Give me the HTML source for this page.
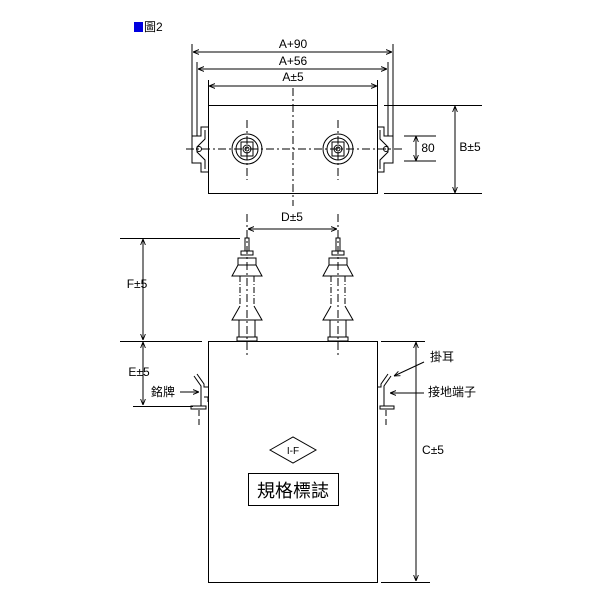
<!DOCTYPE html>
<html><head><meta charset="utf-8"><style>
html,body{margin:0;padding:0;background:#fff;width:600px;height:600px;overflow:hidden}
text{font-family:"Liberation Sans","Noto Sans CJK TC",sans-serif;fill:#000}
</style></head><body>
<svg width="600" height="600" viewBox="0 0 600 600" xmlns="http://www.w3.org/2000/svg">
<defs>
<marker id="a" viewBox="0 0 10 10" refX="10" refY="5" markerWidth="6" markerHeight="6" orient="auto-start-reverse"><path d="M0,1 L10,5 L0,9" fill="none" stroke="#000" stroke-width="1.5"/></marker>
</defs>
<rect x="134" y="22" width="9" height="10" fill="#0000e0"/>
<text x="144" y="31" font-size="12">圖2</text>
<g stroke="#000" stroke-width="1" fill="none">
<rect x="208.5" y="105.5" width="169" height="88"/>
<line x1="293" y1="88" x2="293" y2="206" stroke-dasharray="8,3,2,3"/>
<line x1="186" y1="149" x2="402" y2="149" stroke-dasharray="8,3,2,3"/>
<line x1="247" y1="120" x2="247" y2="180" stroke-dasharray="8,3,2,3"/>
<line x1="338" y1="120" x2="338" y2="180" stroke-dasharray="8,3,2,3"/>
<circle cx="247" cy="149" r="15"/><circle cx="247" cy="149" r="11"/><rect x="241" y="142" width="12" height="14"/><circle cx="247" cy="149" r="4"/><circle cx="247" cy="149" r="2"/>
<circle cx="338" cy="149" r="15"/><circle cx="338" cy="149" r="11"/><rect x="332" y="142" width="12" height="14"/><circle cx="338" cy="149" r="4"/><circle cx="338" cy="149" r="2"/>
<path d="M208,127 H201 V136 H192 V163 H201 V172 H208"/><path d="M205,130 V139 L197,147 L197,152 L205,160 V169"/><circle cx="199" cy="149" r="2.5"/>
<path d="M377,127 H384 V136 H393 V163 H384 V172 H377"/><path d="M380,130 V139 L388,147 L388,152 L380,160 V169"/><circle cx="386" cy="149" r="2.5"/>
<line x1="192" y1="44" x2="192" y2="136"/><line x1="197" y1="62" x2="197" y2="136"/>
<line x1="393" y1="44" x2="393" y2="136"/><line x1="388" y1="62" x2="388" y2="136"/>
<line x1="208.5" y1="80" x2="208.5" y2="105"/><line x1="377.5" y1="80" x2="377.5" y2="105"/>
<line x1="193" y1="52" x2="392" y2="52" marker-start="url(#a)" marker-end="url(#a)"/>
<line x1="198" y1="69" x2="387" y2="69" marker-start="url(#a)" marker-end="url(#a)"/>
<line x1="209" y1="86" x2="377" y2="86" marker-start="url(#a)" marker-end="url(#a)"/>
<line x1="384" y1="105.5" x2="482" y2="105.5"/><line x1="384" y1="193.5" x2="482" y2="193.5"/>
<line x1="455" y1="106" x2="455" y2="193" marker-start="url(#a)" marker-end="url(#a)"/>
<line x1="404" y1="136" x2="436" y2="136"/><line x1="404" y1="161" x2="436" y2="161"/>
<line x1="416" y1="136" x2="416" y2="161" marker-start="url(#a)" marker-end="url(#a)"/>
<rect x="208.5" y="341.5" width="169" height="241"/>
<line x1="247" y1="214" x2="247" y2="358" stroke-dasharray="8,3,2,3"/>
<line x1="338" y1="214" x2="338" y2="358" stroke-dasharray="8,3,2,3"/>
<line x1="248" y1="229" x2="337" y2="229" marker-start="url(#a)" marker-end="url(#a)"/>
<line x1="120" y1="238.5" x2="240" y2="238.5"/>
<line x1="143" y1="239" x2="143" y2="340" marker-start="url(#a)" marker-end="url(#a)"/>
<line x1="120" y1="341.5" x2="202" y2="341.5"/>
<line x1="143" y1="342" x2="143" y2="405" marker-start="url(#a)" marker-end="url(#a)"/>
<line x1="133" y1="406.5" x2="193" y2="406.5"/>
<line x1="381" y1="341.5" x2="425" y2="341.5"/><line x1="381" y1="582.5" x2="430" y2="582.5"/>
<line x1="416" y1="342" x2="416" y2="581" marker-start="url(#a)" marker-end="url(#a)"/>
<g id="b">
<rect x="245" y="238" width="4" height="13"/><rect x="241" y="251" width="12" height="4"/><rect x="238" y="258" width="18" height="7"/>
<path d="M238,265 L232,276 H262 L256,265"/>
<line x1="240" y1="276" x2="240" y2="306" stroke-dasharray="6,2,1,2"/><line x1="254" y1="276" x2="254" y2="306" stroke-dasharray="6,2,1,2"/>
<path d="M240,306 L232,320 H262 L254,306"/>
<rect x="239" y="320" width="16" height="17"/><rect x="237" y="337" width="20" height="4"/>
</g>
<use href="#b" x="91"/>
<path d="M194,376 L201,386 V406 M197,374 L204,384 V387 H208 M204,397 H208 V402"/>
<path d="M191,406 H206 V409 H191 Z"/>
<line x1="199" y1="410" x2="199" y2="425" stroke-dasharray="6,3"/>
<line x1="180" y1="392" x2="199" y2="392" marker-end="url(#a)"/>
<path d="M391,376 L384,386 V406 M388,374 L381,384 V387 H377"/>
<path d="M394,406 H380 V409 H394 Z"/>
<line x1="386" y1="410" x2="386" y2="425" stroke-dasharray="6,3"/>
<line x1="424" y1="362" x2="394" y2="376" marker-end="url(#a)"/>
<line x1="424" y1="393" x2="390" y2="393" marker-end="url(#a)"/>
<path d="M270,450 L293,437 L316,450 L293,463 Z"/>
<rect x="248.5" y="473.5" width="90" height="32"/>
</g>
<g font-size="12" text-anchor="middle">
<text x="293" y="48">A+90</text><text x="293" y="65">A+56</text><text x="293" y="81">A±5</text>
<text x="470" y="151">B±5</text><text x="428" y="152">80</text>
<text x="292" y="221">D±5</text><text x="137" y="288">F±5</text><text x="139" y="376">E±5</text>
<text x="433" y="454">C±5</text>
<text x="293" y="454" font-size="10">I-F</text>
</g>
<g font-size="12">
<text x="430" y="361">掛耳</text><text x="428" y="396">接地端子</text><text x="151" y="396">銘牌</text>
</g>
<text x="293" y="497" font-size="18" text-anchor="middle">規格標誌</text>
</svg>
</body></html>
